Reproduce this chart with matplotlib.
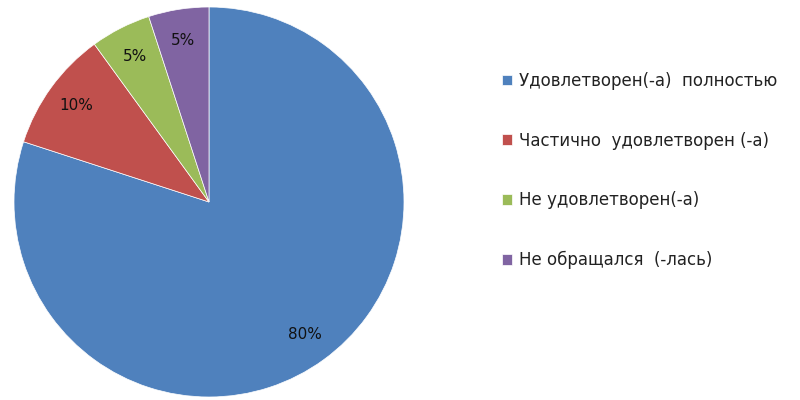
import matplotlib.pyplot as plt

labels = ["Удовлетворен(-а)  полностью", "Частично  удовлетворен (-а)",
          "Не удовлетворен(-а)", "Не обращался  (-лась)"]
shares = [80, 10, 5, 5]
colors = ["#4f81bd", "#c0504d", "#9bbb59", "#8064a2"]

fig = plt.figure(figsize=(8, 4), dpi=100)
ax = fig.add_axes([0.0175, 0.0075, 0.4875, 0.975])
wedges, _, autotexts = ax.pie(shares, colors=colors, startangle=90, counterclock=False,
                              autopct="%d%%", pctdistance=0.84,
                              wedgeprops=dict(edgecolor="white", linewidth=0.5),
                              textprops=dict(fontsize=11, color="#111111"))
ax.set_xlim(-1, 1)
ax.set_ylim(-1, 1)
ax.set_aspect("equal")

fig.legend(wedges, labels, loc="upper left", bbox_to_anchor=(0.628, 0.82),
           frameon=False, fontsize=12, handlelength=0.6, handleheight=0.6,
           handletextpad=0.4, labelspacing=2.5, borderaxespad=0, borderpad=0,
           labelcolor="#222222")

fig.savefig("out.png", dpi=100)
